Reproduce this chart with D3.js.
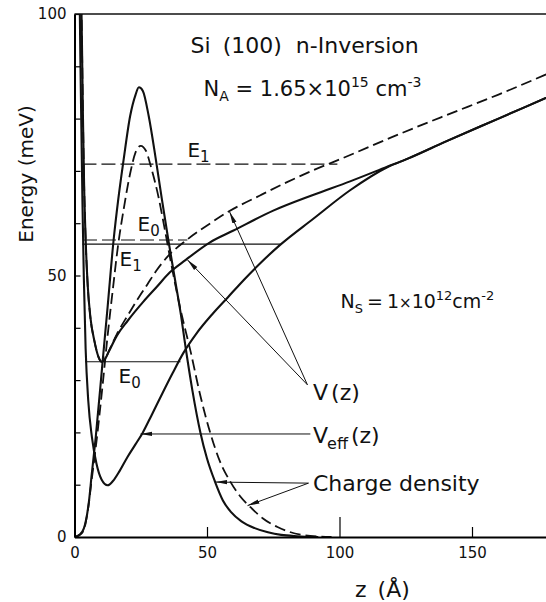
<!DOCTYPE html>
<html>
<head>
<meta charset="utf-8">
<script src="https://cdn.jsdelivr.net/npm/d3@7"></script>
<style>
body { margin: 0; background: #fff; }
svg { display: block; background: #fff; }
text { font-family: "DejaVu Sans", sans-serif; fill: #111; }
.curve { fill: none; stroke: #111; stroke-width: 2.1px; }
.curve.dashed { stroke-width: 1.8px; stroke-dasharray: 11,5; }
.level { stroke: #111; stroke-width: 1.1px; }
.level.dashed { stroke-dasharray: 14,5; }
.pointer { stroke: #111; stroke-width: 1px; }
</style>
</head>
<body>
<svg width="546" height="602"></svg>
<script>
// ---- data: z in Angstrom, energy in meV ----
var zTicks = [0, 50, 100, 150];
var energyTicks = [0, 10, 20, 30, 40, 50, 60, 70, 80, 90, 100];
var energyLabels = [0, 50, 100];

// charge density (arbitrary units, drawn on the energy scale)
var chargeSolid = [[0,0],[2,0.5],[3.5,1.6],[5.5,7],[6.5,12],[8,19],[10.6,33.5],[12.5,44],[14.7,56.5],
  [16.5,64.5],[18.5,72],[21,80.5],[23,84.5],[24.3,86],[25.8,85.3],[28,80.5],[30.6,72.5],[33,64.5],
  [35.5,56.5],[38,49],[40,43],[42,36],[44.5,28],[47.5,20],[50,15],[53,10.6],[56,7],[59,4.8],
  [63,3],[68,1.7],[73,0.9],[78,0.4],[84,0.15],[92,0]];
var chargeDashed = [[0,0],[2,0.4],[3.5,1.3],[5,5],[6.5,11],[8,17],[10.6,29],[12.5,38.5],[14.5,47.5],
  [16.5,56],[18.5,62.5],[21,69.5],[23,73.5],[25,74.8],[27,73.8],[29,70.5],[31.7,65],[34,59],
  [36.2,53],[40,43.5],[43.8,35.5],[47.5,27],[51.3,19.8],[55,14.3],[58.9,10.5],[62.5,7.8],
  [66.4,5.7],[71,3.6],[76.6,1.9],[81,1],[86.4,0.35],[92,0.08],[97,0]];

// potentials
var vSolid = [[2.5,105],[2.8,95],[3.2,80],[3.6,68],[4.2,57],[5,48],[6,42],[7.5,37.5],[9,34.5],
  [10.3,33.5],[11.5,34],[13,35.5],[16,38.5],[20,41.3],[26,45],[31,47.8],[36,50.6],[42,53],
  [51,56.3],[60,58.6],[75,62.4],[90,65.4],[104,68],[118,70.8],[126,72.4],[140,75.6],[160,80],[180,84.4]];
var vDashed = [[2.5,105],[2.8,95],[3.2,80],[3.6,68],[4.2,57],[5,48],[6,42],[7.5,37.5],[9,34.5],
  [10.3,33.5],[11.5,34],[13,35.6],[16,38.8],[20,42.3],[24,45.6],[27.5,48.3],[31,51],[35.1,53.6],
  [42.6,56.9],[51.3,60],[57.7,62.1],[70,65.3],[80,67.8],[90,70.1],[101.5,72.5],[120,76.5],
  [140,80.6],[160,84.6],[180,88.9]];
var vEff = [[1.9,105],[2.2,92],[2.6,78],[3,64],[3.5,50],[4.2,36],[5.2,26],[6.6,19],[8.3,14],
  [10.2,11],[12.5,9.9],[14.5,10.7],[17,12.6],[20,15.3],[23,17.7],[25.7,19.9],[29,23.2],[33,27.3],
  [37,31.3],[41.1,35.2],[46,38.9],[52,42.6],[58,45.9],[63.8,49.1],[70,52.3],[77.7,55.9],[90,60.8],
  [104,66.3],[118,70.7],[126,72.4],[140,75.6],[160,80],[180,84.4]];

// subband levels
var levelNames = ["E1", "E0", "E1", "E0"];
var levelEnergy = [71.3, 56.8, 56.0, 33.5];
var levelFrom = [3.0, 3.2, 3.0, 4.0];
var levelTo = [99.2, 42.6, 77.7, 40.0];
var levelSeries = ["dashed", "dashed", "solid", "solid"];

// ---- layout ----
var svg = d3.select("svg");
var x = d3.scaleLinear().domain([0, 180]).range([74.5, 551.5]);
var y = d3.scaleLinear().domain([0, 100]).range([537, 14]);

var defs = svg.append("defs");
defs.append("clipPath").attr("id", "plot").append("rect")
    .attr("x", x(0)).attr("y", y(100))
    .attr("width", 546 - x(0)).attr("height", y(0) - y(100));

var marker = defs.append("marker")
    .attr("id", "head")
    .attr("viewBox", "0 -3 13 6")
    .attr("refX", 12).attr("refY", 0)
    .attr("markerWidth", 13).attr("markerHeight", 6)
    .attr("markerUnits", "userSpaceOnUse")
    .attr("orient", "auto");
marker.append("path").attr("d", "M0,-2.2L12,0L0,2.2Z").attr("fill", "#111");

var line = d3.line()
    .x(function(d) { return x(d[0]); })
    .y(function(d) { return y(d[1]); })
    .curve(d3.curveMonotoneX);

var plot = svg.append("g").attr("clip-path", "url(#plot)");

// level lines
levelEnergy.forEach(function(e, i) {
  plot.append("line")
      .attr("class", "level " + levelSeries[i])
      .attr("x1", x(levelFrom[i])).attr("x2", x(levelTo[i]))
      .attr("y1", y(e)).attr("y2", y(e));
});

// curves
[[chargeSolid, "solid"], [chargeDashed, "dashed"], [vSolid, "solid"],
 [vDashed, "dashed"], [vEff, "solid"]].forEach(function(c) {
  plot.append("path")
      .datum(c[0])
      .attr("class", "curve " + c[1])
      .attr("d", line);
});

// axes
var gx = svg.append("g")
    .attr("transform", "translate(0," + y(0) + ")")
    .call(d3.axisBottom(x).tickValues(zTicks).tickSizeInner(-10).tickSizeOuter(0).tickPadding(10));
gx.selectAll(".tick line")
    .attr("y2", function(d) { return d === 0 ? 0 : (d === 100 ? -20 : -10); })
    .attr("stroke-width", 1.2);

var gy = svg.append("g")
    .attr("transform", "translate(" + x(0) + ",0)")
    .call(d3.axisLeft(y).tickValues(energyTicks).tickSizeInner(-6).tickSizeOuter(0).tickPadding(8)
      .tickFormat(function(d) { return energyLabels.indexOf(d) >= 0 ? d : ""; }));
gy.selectAll(".tick line").attr("stroke-width", 1.2);

[gx, gy].forEach(function(g) {
  g.attr("font-size", 15).attr("font-family", "DejaVu Sans, sans-serif");
  g.select(".domain").attr("stroke-width", 2);
  g.selectAll("text").attr("fill", "#111");
});

svg.append("line")
    .attr("x1", x(0)).attr("x2", 546)
    .attr("y1", y(100)).attr("y2", y(100))
    .attr("stroke", "#111").attr("stroke-width", 1.6);

// axis titles
svg.append("text")
    .attr("transform", "translate(33,174) rotate(-90)")
    .attr("text-anchor", "middle")
    .attr("font-size", 20)
    .text("Energy (meV)");

var zt = svg.append("text").attr("x", 355).attr("y", 597).attr("font-size", 22);
zt.append("tspan").text("z");
zt.append("tspan").attr("dx", 11).text("(Å)");

// level labels
var levelLabelPos = [[42.6, 72.7], [23.8, 58.5], [17, 51.8], [16.6, 29.4]];
levelNames.forEach(function(n, i) {
  var t = svg.append("text")
      .attr("x", x(levelLabelPos[i][0])).attr("y", y(levelLabelPos[i][1]))
      .attr("font-size", 20);
  t.append("tspan").text("E");
  t.append("tspan").attr("font-size", 15).attr("dy", 5).text(n.slice(1));
});

// titles
var t1 = svg.append("text").attr("x", x(43.8)).attr("y", y(92.5)).attr("font-size", 22);
t1.append("tspan").text("Si");
t1.append("tspan").attr("dx", 12).text("(100)");
t1.append("tspan").attr("dx", 14).text("n-Inversion");

var na = svg.append("text").attr("x", x(48.7)).attr("y", y(84.3)).attr("font-size", 21);
na.append("tspan").text("N");
na.append("tspan").attr("font-size", 14).attr("dy", 5).text("A");
na.append("tspan").attr("dy", -5).text(" = 1.65×10");
na.append("tspan").attr("font-size", 14).attr("dy", -9).text("15");
na.append("tspan").attr("dy", 9).text(" cm");
na.append("tspan").attr("font-size", 14).attr("dy", -9).text("-3");

var ns = svg.append("text").attr("x", x(100.4)).attr("y", y(43.8)).attr("font-size", 19);
ns.append("tspan").text("N");
ns.append("tspan").attr("font-size", 13).attr("dy", 5).text("S");
ns.append("tspan").attr("dy", -5).attr("dx", 4).text("=");
ns.append("tspan").attr("dx", 4).text("1");
ns.append("tspan").attr("font-size", 15).text("×");
ns.append("tspan").text("10");
ns.append("tspan").attr("font-size", 13).attr("dy", -8).text("12");
ns.append("tspan").attr("dy", 8).text("cm");
ns.append("tspan").attr("font-size", 13).attr("dy", -8).text("-2");

// pointer lines: [origin z, origin E, target z, target E]
var pointers = [
  [87.9, 29.1, 58.5, 62.2],
  [87.9, 29.1, 42.6, 53.0],
  [89.0, 19.7, 24.9, 19.7],
  [88.3, 10.3, 53.2, 10.5],
  [88.3, 10.3, 65.3, 6.0]
];
pointers.forEach(function(p) {
  svg.append("line")
      .attr("class", "pointer")
      .attr("x1", x(p[0])).attr("y1", y(p[1]))
      .attr("x2", x(p[2])).attr("y2", y(p[3]))
      .attr("marker-end", "url(#head)");
});

var vz = svg.append("text").attr("x", 313).attr("y", 400).attr("font-size", 22);
vz.append("tspan").text("V");
vz.append("tspan").attr("dx", 3).text("(z)");

var ve = svg.append("text").attr("x", 313).attr("y", 443).attr("font-size", 22);
ve.append("tspan").text("V");
ve.append("tspan").attr("font-size", 16).attr("dy", 6).attr("dx", -1).text("eff");
ve.append("tspan").attr("dy", -6).attr("dx", 3).text("(z)");

svg.append("text").attr("x", 313).attr("y", 491).attr("font-size", 22).text("Charge density");
</script>
</body>
</html>
